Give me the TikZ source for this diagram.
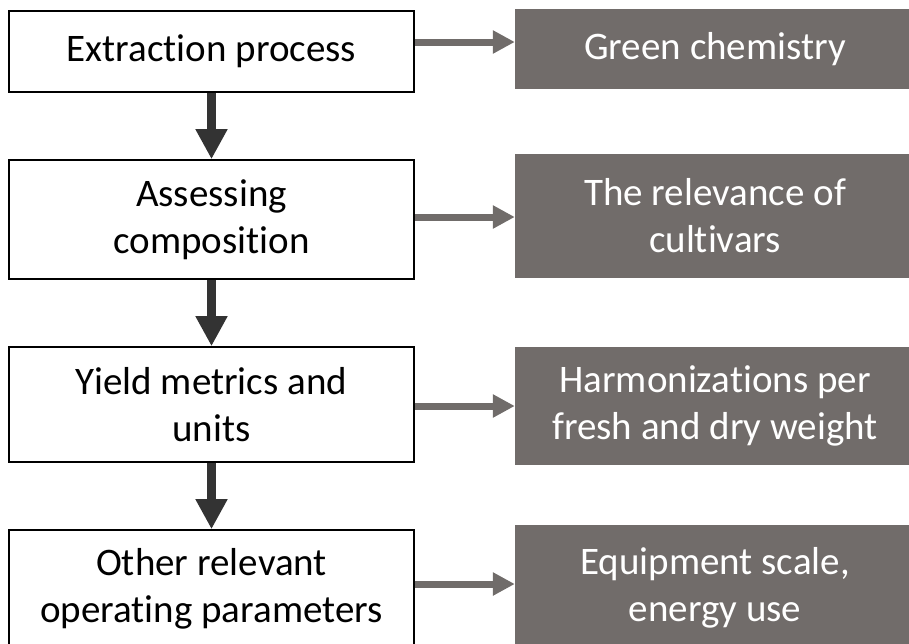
\documentclass[tikz,border=0pt]{standalone}
\usepackage{fontspec}
\setmainfont{Carlito}[Ligatures=NoCommon]
\usetikzlibrary{arrows.meta}
\definecolor{notegray}{RGB}{113,108,106}
\definecolor{downgray}{RGB}{51,51,51}
\definecolor{sidegray}{RGB}{112,108,106}
\tikzset{
	stepbox/.style={draw=black, line width=1.6pt, fill=white, minimum width=405pt, align=center, inner sep=0pt, font=\fontsize{39}{47}\selectfont},
	notebox/.style={fill=notegray, text=white, minimum width=400pt, align=center, inner sep=0pt, font=\fontsize{39}{47}\selectfont},
	downarrow/.style={draw=downgray, line width=9pt, -{Triangle[width=30pt,length=30pt]}},
	sidearrow/.style={draw=sidegray, line width=7pt, -{Triangle[width=22pt,length=22pt]}}
}
\begin{document}
\begin{tikzpicture}[x=1pt,y=-1pt]
\useasboundingbox (0,0) rectangle (909,643);

\pgfmathsetmacro{\fcLx}{211.5}
\pgfmathsetmacro{\fcRx}{715}

\node[stepbox, minimum height=81pt] (stepA) at (\fcLx, 51.5) {Extraction process};
\node[stepbox, minimum height=119pt] (stepB) at (\fcLx, 219.5) {Assessing\\composition};
\node[stepbox, minimum height=115pt] (stepC) at (\fcLx, 404.5) {Yield metrics and\\units};
\node[stepbox, minimum height=118pt] (stepD) at (\fcLx, 589) {Other relevant\\operating parameters};

\node[notebox, minimum height=80pt] (noteA) at (\fcRx, 49) {Green chemistry};
\node[notebox, minimum height=124pt] (noteB) at (\fcRx, 216) {The relevance of\\cultivars};
\node[notebox, minimum height=118pt] (noteC) at (\fcRx, 406) {Harmonizations per\\fresh and dry weight};
\node[notebox, minimum height=125pt] (noteD) at (\fcRx, 587.5) {Equipment scale,\\energy use};

\draw[downarrow] (stepA.south) -- (stepB.north);
\draw[downarrow] (stepB.south) -- (stepC.north);
\draw[downarrow] (stepC.south) -- (stepD.north);

\draw[sidearrow] ([yshift=9.5pt]stepA.east) -- ([yshift=9.5pt]stepA.east -| noteA.west);
\draw[sidearrow] ([yshift=2.5pt]stepB.east) -- ([yshift=2.5pt]stepB.east -| noteB.west);
\draw[sidearrow] ([yshift=-1.5pt]stepC.east) -- ([yshift=-1.5pt]stepC.east -| noteC.west);
\draw[sidearrow] ([yshift=5pt]stepD.east) -- ([yshift=5pt]stepD.east -| noteD.west);
\end{tikzpicture}
\end{document}
